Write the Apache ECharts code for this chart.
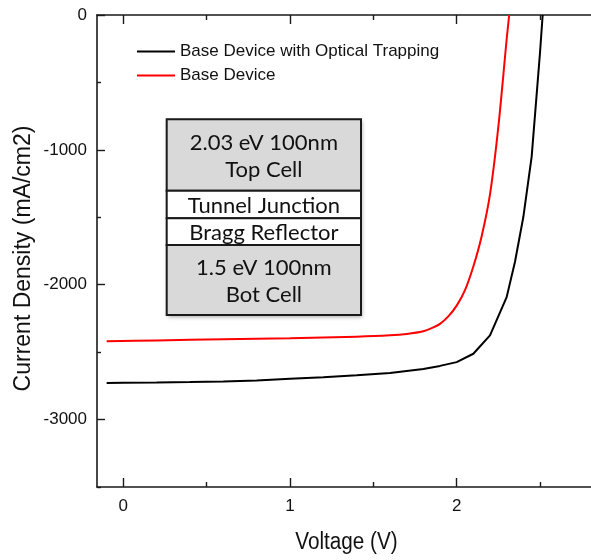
<!DOCTYPE html>
<html>
<head>
<meta charset="utf-8">
<script src="https://cdn.jsdelivr.net/npm/echarts@6/dist/echarts.min.js"></script>
<style>html,body{margin:0;padding:0;background:#fff;}#c{width:591px;height:560px;}</style>
</head>
<body>
<div id="c"></div>
<script>
var seriesNames = ['Base Device with Optical Trapping', 'Base Device'];
var voltsBlack = [-0.1, 0, 0.2, 0.4, 0.6, 0.8, 1.0, 1.2, 1.4, 1.6, 1.8, 1.9, 2.0, 2.1, 2.2, 2.3, 2.35, 2.4, 2.45, 2.5, 2.516];
var currBlack = [-2728, -2727, -2725, -2722, -2717, -2710, -2698, -2686, -2672, -2655, -2625, -2602, -2574, -2512, -2376, -2092, -1830, -1498, -1050, -280, 0];
var voltsRed = [-0.1, 0.2, 0.6, 1.0, 1.4, 1.6, 1.7, 1.8, 1.85, 1.9, 1.95, 2.0, 2.05, 2.1, 2.15, 2.2, 2.25, 2.3, 2.315];
var currRed = [-2419, -2413, -2405, -2397, -2385, -2375, -2365, -2345, -2322, -2290, -2235, -2155, -2040, -1865, -1640, -1330, -830, -180, 0];
var xMajorTicks = [0, 1, 2];
var xMinorTicks = [0.5, 1.5, 2.5];
var yMajorTicks = [0, -1000, -2000, -3000];
var yMinorTicks = [-500, -1500, -2500, -3500];
var xTitle = 'Voltage (V)';
var yTitle = 'Current Density (mA/cm2)';
var insetLayers = ['2.03 eV 100nm\nTop Cell', 'Tunnel Junction', 'Bragg Reflector', '1.5 eV 100nm\nBot Cell'];

var X_MIN = -0.158, X_MAX = 2.806, Y_MIN = -3500, Y_MAX = 0;
var axisCol = '#1a1a1a';
function plain(v) { return String(v); }
function xAx(pos, vals, len, labels, line) {
  return {
    type: 'value', position: pos, min: X_MIN, max: X_MAX,
    axisLine: {show: line, onZero: false, lineStyle: {color: axisCol, width: 1.6}},
    axisTick: {show: true, inside: true, length: len, customValues: vals, lineStyle: {color: axisCol, width: 1.4}},
    axisLabel: {show: labels, customValues: vals, formatter: plain, margin: 11, color: '#111', fontSize: 17, fontFamily: 'Liberation Sans'},
    splitLine: {show: false}
  };
}
function yAx(pos, vals, len, labels, line) {
  return {
    type: 'value', position: pos, min: Y_MIN, max: Y_MAX,
    axisLine: {show: line, onZero: false, lineStyle: {color: axisCol, width: 1.6}},
    axisTick: {show: true, inside: true, length: len, customValues: vals, lineStyle: {color: axisCol, width: 1.4}},
    axisLabel: {show: labels, customValues: vals, formatter: plain, margin: 10, color: '#111', fontSize: 17, fontFamily: 'Liberation Sans'},
    splitLine: {show: false}
  };
}
function zipPts(xs, ys) { return xs.map(function (x, i) { return [x, ys[i]]; }); }

var boxL = 166.7, boxW = 194.3;
var layerTops = [119.3, 190.7, 218.3, 245];
var layerBots = [190.7, 218.3, 245, 315];
var layerFill = ['#d9d9d9', '#ffffff', '#ffffff', '#d9d9d9'];
var graphics = [];
graphics.push({type: 'rect', shape: {x: boxL, y: layerTops[0], width: boxW, height: layerBots[3] - layerTops[0]},
  style: {fill: '#d9d9d9', shadowBlur: 4, shadowColor: 'rgba(0,0,0,0.35)', shadowOffsetX: 1, shadowOffsetY: 2}, z: 9});
for (var i = 0; i < 4; i++) {
  graphics.push({type: 'rect', shape: {x: boxL, y: layerTops[i], width: boxW, height: layerBots[i] - layerTops[i]},
    style: {fill: layerFill[i], stroke: '#1a1a1a', lineWidth: 2}, z: 10});
  graphics.push({type: 'text', x: boxL + boxW / 2, y: (layerTops[i] + layerBots[i]) / 2 + 1, z: 11,
    style: {text: insetLayers[i], fill: '#111', font: '22px Lato', align: 'center', verticalAlign: 'middle', lineHeight: 27}});
}
graphics.push({type: 'text', x: 346.5, y: 543, scaleX: 0.9, z: 11,
  style: {text: xTitle, fill: '#111', font: '23px "Liberation Sans"', align: 'center', verticalAlign: 'middle'}});
graphics.push({type: 'text', x: 24, y: 258.5, rotation: Math.PI / 2, z: 11,
  style: {text: yTitle, fill: '#111', font: '23px "Liberation Sans"', align: 'center', verticalAlign: 'middle'}});

var chart = echarts.init(document.getElementById('c'), null, {renderer: 'canvas'});
chart.setOption({
  animation: false,
  backgroundColor: '#fff',
  grid: {left: 97, top: 15, right: 0, bottom: 73, containLabel: false},
  xAxis: [
    xAx('bottom', xMajorTicks, 9, true, true),
    xAx('bottom', xMinorTicks, 5, false, false),
    xAx('top', xMajorTicks, 9, false, true),
    xAx('top', xMinorTicks, 5, false, false)
  ],
  yAxis: [
    yAx('left', yMajorTicks, 8, true, true),
    yAx('left', yMinorTicks, 4, false, false)
  ],
  legend: {
    orient: 'vertical', left: 137, top: 43, padding: 0, itemGap: 7,
    itemWidth: 38, itemHeight: 2, icon: 'rect',
    textStyle: {fontSize: 17, fontFamily: 'Liberation Sans', color: '#111', lineHeight: 17},
    data: seriesNames
  },
  graphic: graphics,
  series: [
    {name: seriesNames[0], type: 'line', xAxisIndex: 0, yAxisIndex: 0, data: zipPts(voltsBlack, currBlack),
      symbol: 'none', lineStyle: {color: '#000', width: 2}, itemStyle: {color: '#000'}},
    {name: seriesNames[1], type: 'line', xAxisIndex: 0, yAxisIndex: 0, data: zipPts(voltsRed, currRed),
      symbol: 'none', smooth: 0.3, lineStyle: {color: '#ff0000', width: 2}, itemStyle: {color: '#ff0000'}}
  ]
});
</script>
</body>
</html>
